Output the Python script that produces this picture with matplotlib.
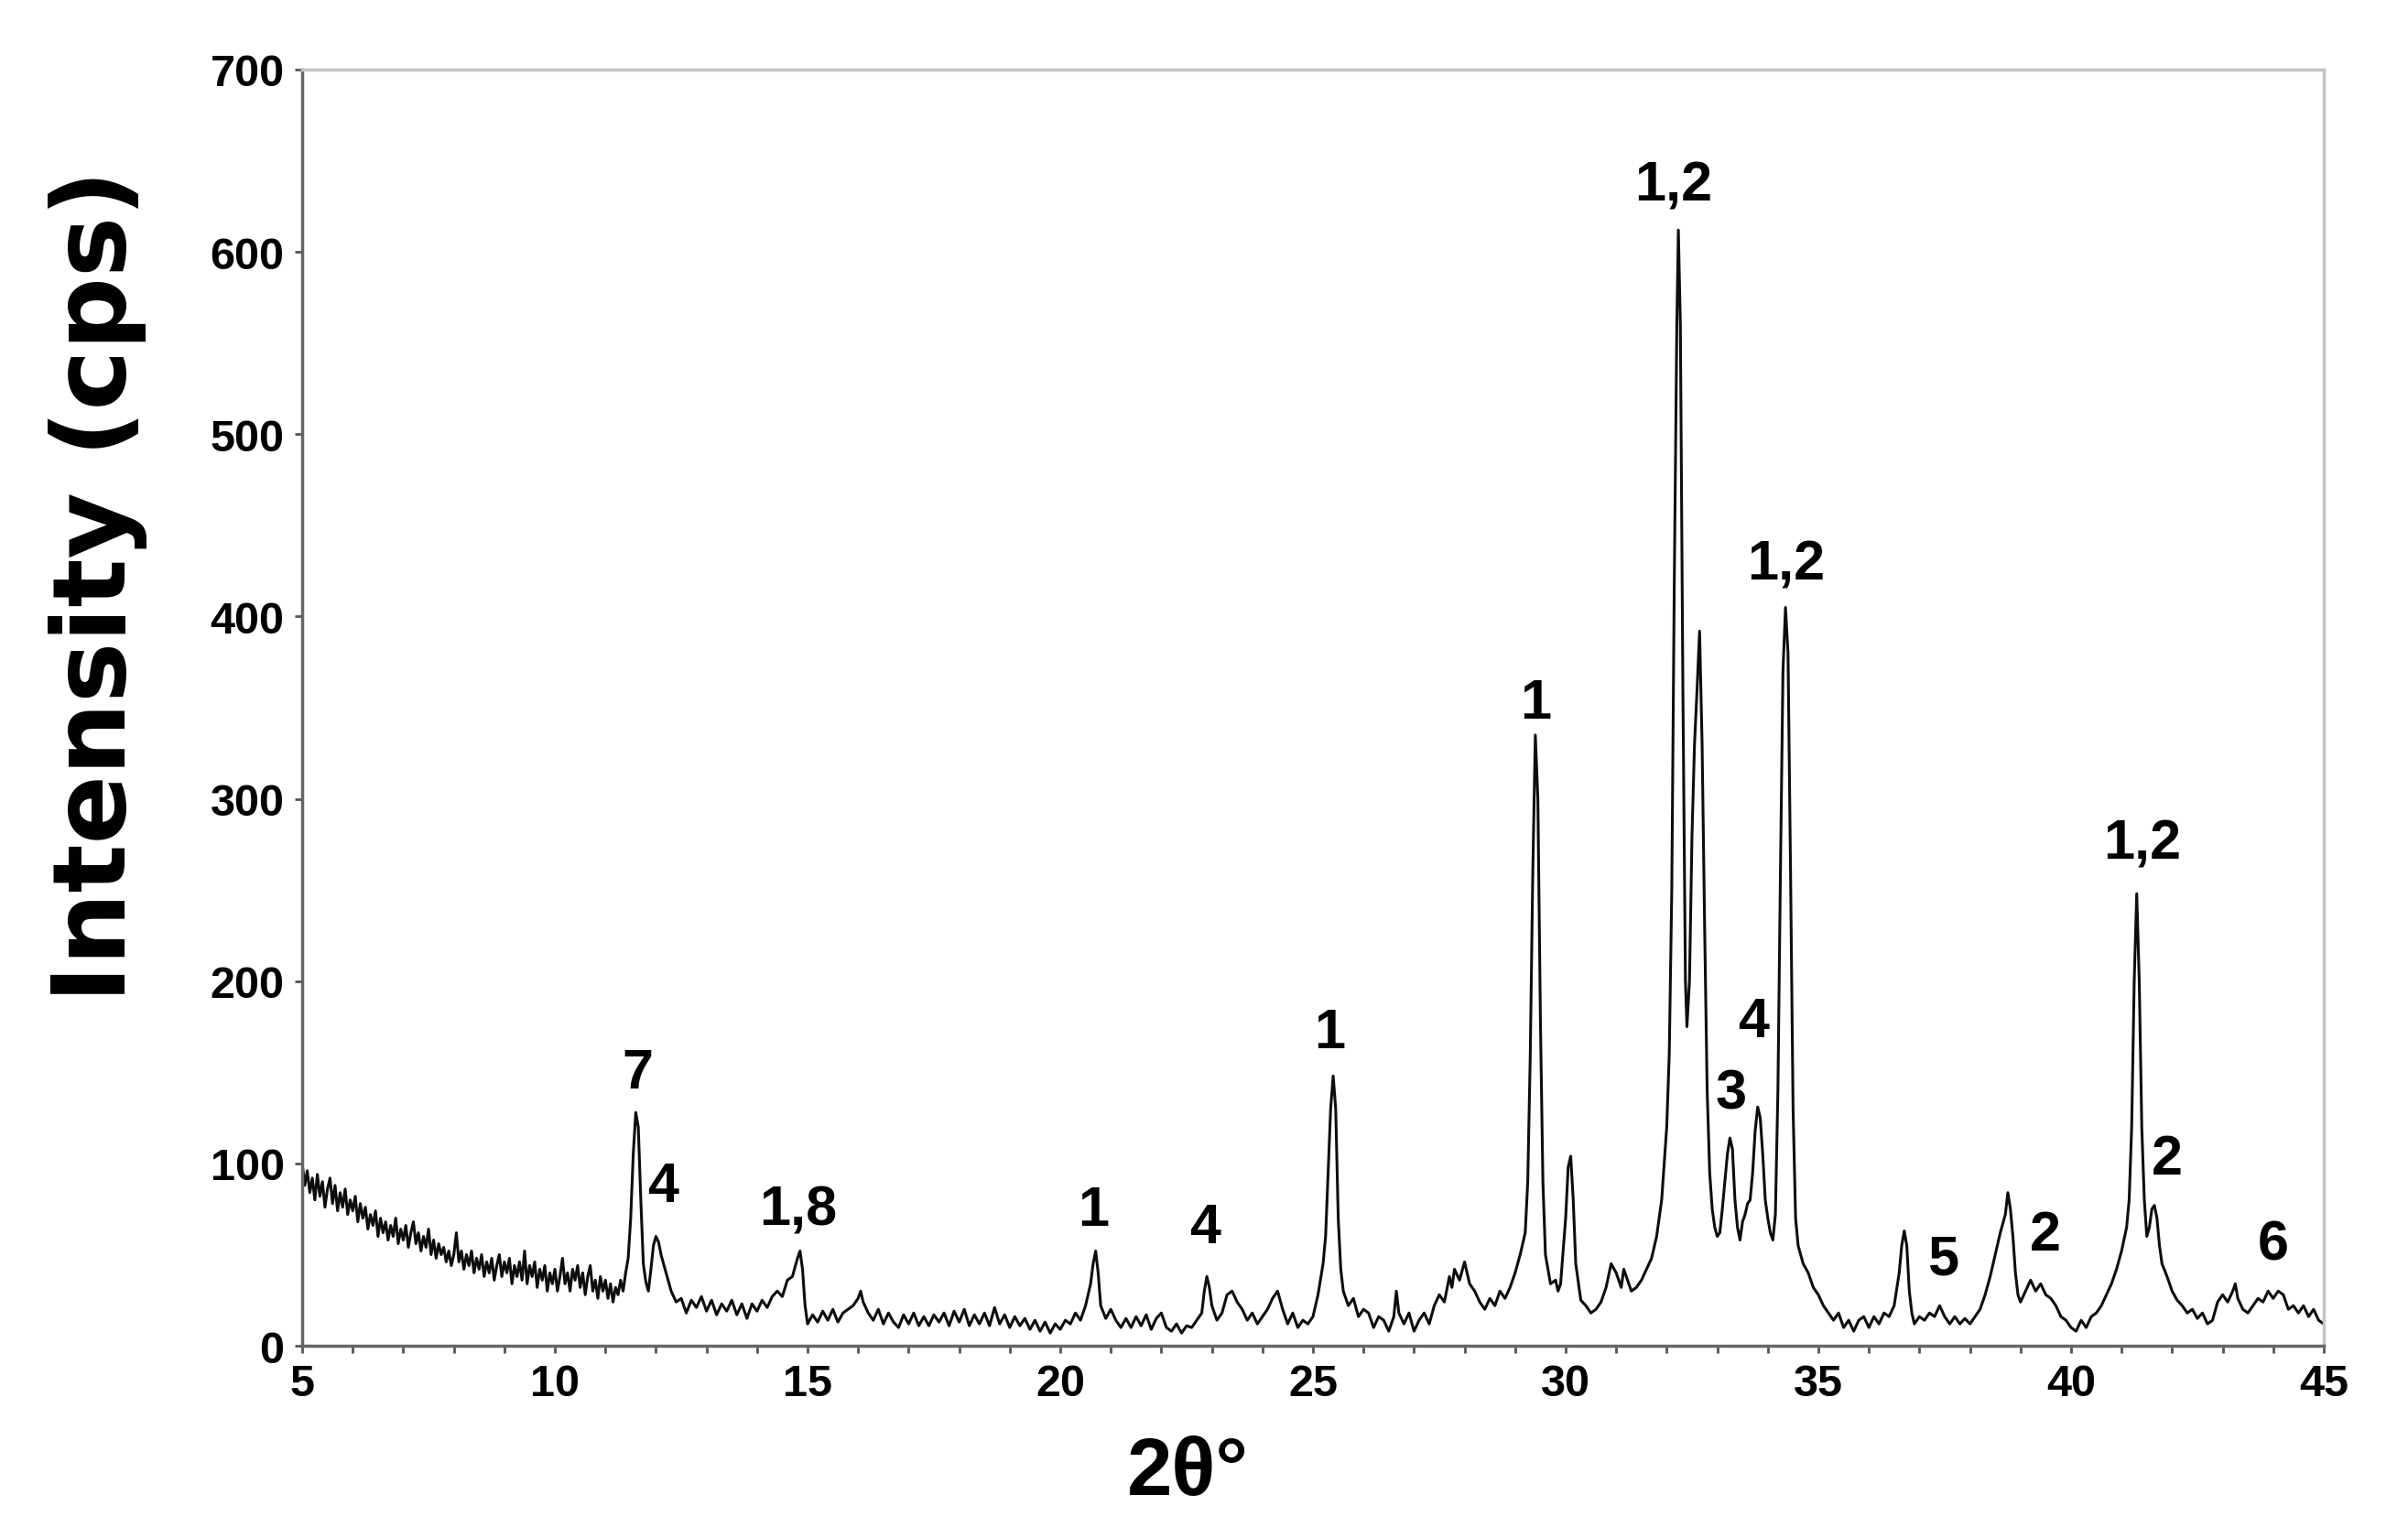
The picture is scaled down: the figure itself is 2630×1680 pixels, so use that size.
import numpy as np
import matplotlib
matplotlib.use("Agg")
import matplotlib.pyplot as plt
from matplotlib.ticker import MultipleLocator

plt.rcParams['font.family'] = ['Liberation Sans', 'DejaVu Sans']
plt.rcParams['font.weight'] = 'bold'

low_theta = np.round(np.arange(5.0, 11.41, 0.05), 2)
low_counts = [
    100, 88, 96, 84, 92, 80, 94, 82, 90, 76, 86, 92, 78, 88, 74, 84, 76, 86, 72, 80,
    74, 82, 68, 78, 70, 76, 64, 72, 66, 74, 60, 70, 62, 68, 58, 66, 60, 70, 56, 64,
    58, 66, 54, 62, 68, 56, 62, 52, 60, 54, 64, 50, 58, 48, 56, 50, 54, 46, 52, 44,
    50, 62, 46, 52, 42, 50, 44, 52, 40, 48, 42, 50, 38, 46, 40, 48, 36, 44, 50, 38,
    46, 40, 48, 34, 44, 38, 46, 36, 52, 34, 44, 38, 46, 32, 42, 36, 44, 30, 40, 34,
    42, 30, 38, 48, 34, 40, 30, 42, 36, 44, 32, 40, 28, 38, 44, 30, 36, 26, 38, 30,
    36, 26, 34, 24, 32, 28, 36, 30, 40,
]

# rest of the diffractogram (2theta in degrees, intensity in cps)
two_theta = [
    11.45, 11.5, 11.55, 11.6, 11.65, 11.7, 11.75, 11.8, 11.85, 11.9, 11.95,
    12.0, 12.05, 12.1, 12.2, 12.3, 12.4, 12.5, 12.6, 12.7, 12.8, 12.9, 13.0, 13.1, 13.2, 13.3, 13.4, 13.5,
    13.6, 13.7, 13.8, 13.9, 14.0, 14.1, 14.2, 14.3, 14.4, 14.5, 14.6, 14.7, 14.8, 14.85, 14.9, 14.95,
    15.0, 15.1, 15.2, 15.3, 15.4, 15.5, 15.6, 15.7, 15.8, 15.9, 16.0, 16.05, 16.1, 16.2, 16.3, 16.4, 16.5,
    16.6, 16.7, 16.8, 16.9, 17.0, 17.1, 17.2, 17.3, 17.4, 17.5, 17.6, 17.7, 17.8, 17.9, 18.0, 18.1, 18.2,
    18.3, 18.4, 18.5, 18.6, 18.7, 18.8, 18.9, 19.0, 19.1, 19.2, 19.3, 19.4, 19.5, 19.6, 19.7, 19.8, 19.9,
    20.0, 20.1, 20.2, 20.3, 20.4, 20.5, 20.6, 20.65, 20.7, 20.75, 20.8, 20.9, 21.0, 21.1, 21.2, 21.3, 21.4,
    21.5, 21.6, 21.7, 21.8, 21.9, 22.0, 22.1, 22.2, 22.3, 22.4, 22.5, 22.6, 22.7, 22.8, 22.85, 22.9, 22.95,
    23.0, 23.1, 23.2, 23.3, 23.4, 23.5, 23.6, 23.7, 23.8, 23.9, 24.0, 24.1, 24.2, 24.3, 24.4, 24.5, 24.6,
    24.7, 24.8, 24.9, 25.0, 25.1, 25.2, 25.25, 25.3, 25.35, 25.4, 25.45, 25.5, 25.55, 25.6, 25.7, 25.8,
    25.9, 26.0, 26.1, 26.2, 26.3, 26.4, 26.5, 26.6, 26.65, 26.7, 26.8, 26.9, 27.0, 27.1, 27.2, 27.3, 27.4,
    27.5, 27.6, 27.7, 27.75, 27.8, 27.9, 28.0, 28.1, 28.2, 28.3, 28.4, 28.5, 28.6, 28.7, 28.8, 28.9, 29.0,
    29.1, 29.2, 29.25, 29.3, 29.35, 29.4, 29.45, 29.5, 29.55, 29.6, 29.7, 29.8, 29.85, 29.9, 30.0, 30.05,
    30.1, 30.15, 30.2, 30.3, 30.4, 30.5, 30.6, 30.7, 30.8, 30.9, 31.0, 31.1, 31.15, 31.2, 31.3, 31.4, 31.5,
    31.6, 31.7, 31.8, 31.9, 32.0, 32.05, 32.1, 32.15, 32.2, 32.23, 32.27, 32.32, 32.37, 32.4, 32.45, 32.5,
    32.55, 32.6, 32.65, 32.7, 32.75, 32.8, 32.85, 32.9, 32.95, 33.0, 33.05, 33.1, 33.2, 33.25, 33.3, 33.35,
    33.4, 33.45, 33.5, 33.55, 33.6, 33.65, 33.7, 33.75, 33.8, 33.85, 33.9, 33.95, 34.0, 34.05, 34.1, 34.15,
    34.2, 34.25, 34.3, 34.35, 34.4, 34.45, 34.5, 34.55, 34.6, 34.7, 34.8, 34.9, 35.0, 35.1, 35.2, 35.3,
    35.4, 35.5, 35.6, 35.7, 35.8, 35.9, 36.0, 36.1, 36.2, 36.3, 36.4, 36.5, 36.6, 36.65, 36.7, 36.75, 36.8,
    36.85, 36.9, 37.0, 37.1, 37.2, 37.3, 37.4, 37.5, 37.6, 37.7, 37.8, 37.9, 38.0, 38.1, 38.2, 38.3, 38.4,
    38.5, 38.6, 38.7, 38.75, 38.8, 38.85, 38.9, 38.95, 39.0, 39.1, 39.2, 39.3, 39.4, 39.5, 39.6, 39.7, 39.8,
    39.9, 40.0, 40.1, 40.2, 40.3, 40.4, 40.5, 40.6, 40.7, 40.8, 40.9, 41.0, 41.1, 41.15, 41.2, 41.25, 41.3,
    41.35, 41.4, 41.45, 41.5, 41.55, 41.6, 41.65, 41.7, 41.75, 41.8, 41.9, 42.0, 42.1, 42.2, 42.3, 42.4,
    42.5, 42.6, 42.7, 42.8, 42.9, 43.0, 43.1, 43.2, 43.25, 43.3, 43.4, 43.5, 43.6, 43.7, 43.8, 43.9, 44.0,
    44.1, 44.2, 44.3, 44.4, 44.5, 44.6, 44.7, 44.8, 44.9, 45.0,
]
intensity = [
    48, 70, 105, 128, 120, 80, 45, 35, 30, 42, 55,
    60, 57, 50, 40, 30, 24, 26, 18, 25, 21, 27, 19, 25, 17, 23, 19, 25,
    17, 23, 15, 23, 19, 25, 21, 27, 30, 27, 36, 38, 48, 52, 42, 22,
    12, 17, 13, 19, 14, 20, 13, 18, 20, 22, 26, 30, 24, 18, 14, 20, 12,
    18, 13, 10, 17, 12, 18, 11, 16, 11, 17, 13, 18, 11, 19, 13, 20, 11,
    17, 12, 18, 11, 21, 12, 17, 10, 16, 11, 15, 9, 14, 8, 13, 7, 12,
    9, 14, 12, 18, 14, 22, 34, 45, 52, 40, 22, 15, 20, 14, 10, 15, 10,
    16, 11, 17, 9, 15, 18, 10, 8, 12, 7, 11, 10, 14, 18, 30, 38, 32,
    22, 14, 18, 28, 30, 24, 20, 14, 18, 12, 16, 20, 26, 30, 20, 12, 18,
    10, 14, 12, 16, 28, 45, 60, 95, 130, 148, 130, 70, 42, 30, 22, 26,
    16, 20, 18, 10, 16, 14, 8, 16, 30, 18, 12, 18, 8, 14, 18, 12, 22,
    28, 24, 38, 32, 42, 36, 46, 34, 30, 24, 20, 26, 22, 30, 26, 32, 40,
    50, 62, 90, 160, 260, 335, 300, 180, 90, 50, 34, 36, 30, 34, 70, 98,
    104, 80, 45, 25, 22, 18, 20, 24, 32, 45, 40, 32, 42, 38, 30, 32, 36,
    42, 48, 60, 80, 120, 160, 250, 420, 560, 612, 560, 360, 200, 175, 200, 280,
    330, 360, 392, 330, 230, 140, 95, 75, 65, 60, 62, 75, 105, 114, 108, 80,
    65, 58, 68, 72, 78, 80, 95, 118, 131, 125, 105, 80, 70, 62, 58, 72,
    140, 260, 370, 405, 380, 260, 130, 70, 55, 45, 40, 32, 28, 22, 18, 14,
    18, 10, 14, 8, 14, 16, 10, 16, 12, 18, 16, 22, 40, 55, 63, 55, 30,
    18, 12, 16, 14, 18, 16, 22, 16, 12, 16, 12, 15, 12, 16, 20, 28, 38,
    50, 62, 72, 84, 75, 60, 40, 28, 24, 30, 36, 30, 34, 28, 26, 22, 16,
    14, 10, 8, 14, 10, 16, 18, 22, 28, 34, 42, 52, 65, 80, 120, 200, 248,
    200, 120, 80, 60, 65, 75, 77, 70, 55, 45, 38, 30, 25, 22, 18, 20,
    15, 18, 12, 14, 24, 28, 24, 30, 34, 26, 20, 18, 22, 26, 24, 30, 26,
    30, 28, 20, 22, 18, 22, 16, 20, 14, 12,
]

# phase labels above the peaks
peak_labels = ['7', '4', '1,8', '1', '4', '1', '1', '1,2', '3', '4', '1,2', '5', '2', '1,2', '2', '6']
label_x = [11.63, 12.14, 14.82, 20.65, 22.87, 25.33, 29.41, 32.14, 33.27, 33.72, 34.36, 37.46, 39.5, 41.41, 41.9, 44.0]
label_y = [135, 73, 60, 60, 50, 157, 338, 622, 124, 163, 414, 33, 46, 261, 88, 41]

theta_all = np.concatenate([low_theta, two_theta])
counts_all = np.concatenate([low_counts, intensity])

fig = plt.figure(figsize=(26.3, 16.81), dpi=100)
ax = fig.add_axes([0.1255, 0.1249, 0.8395, 0.8293])

ax.plot(theta_all, counts_all, color='#0d0d0d', lw=2.2)

for lab, lx, ly in zip(peak_labels, label_x, label_y):
    ax.text(lx, ly, lab, ha='center', va='bottom', fontsize=44, fontweight='bold')

ax.set_xlim(5, 45)
ax.set_ylim(0, 700)
ax.xaxis.set_major_locator(MultipleLocator(5))
ax.xaxis.set_minor_locator(MultipleLocator(1))
ax.yaxis.set_major_locator(MultipleLocator(100))

ax.tick_params(axis='both', which='major', direction='out', length=6, width=2,
               color='#555555', labelsize=35, pad=8)
ax.tick_params(axis='x', which='minor', direction='out', length=6, width=2, color='#555555')
ax.tick_params(top=False, right=False)

for side in ['left', 'bottom']:
    ax.spines[side].set_color('#666666')
    ax.spines[side].set_linewidth(2.5)
for side in ['top', 'right']:
    ax.spines[side].set_color('#c4c4c4')
    ax.spines[side].set_linewidth(2.5)

ax.set_ylabel('Intensity (cps)', fontsize=80, fontweight='bold', va='center',
              family=['DejaVu Sans'])
ax.yaxis.set_label_coords(-0.101, 0.596)
ax.set_xlabel('2θ°', fontsize=64, fontweight='bold', va='center')
ax.xaxis.set_label_coords(0.438, -0.10)

fig.savefig('out.png', dpi=100, facecolor='white')
